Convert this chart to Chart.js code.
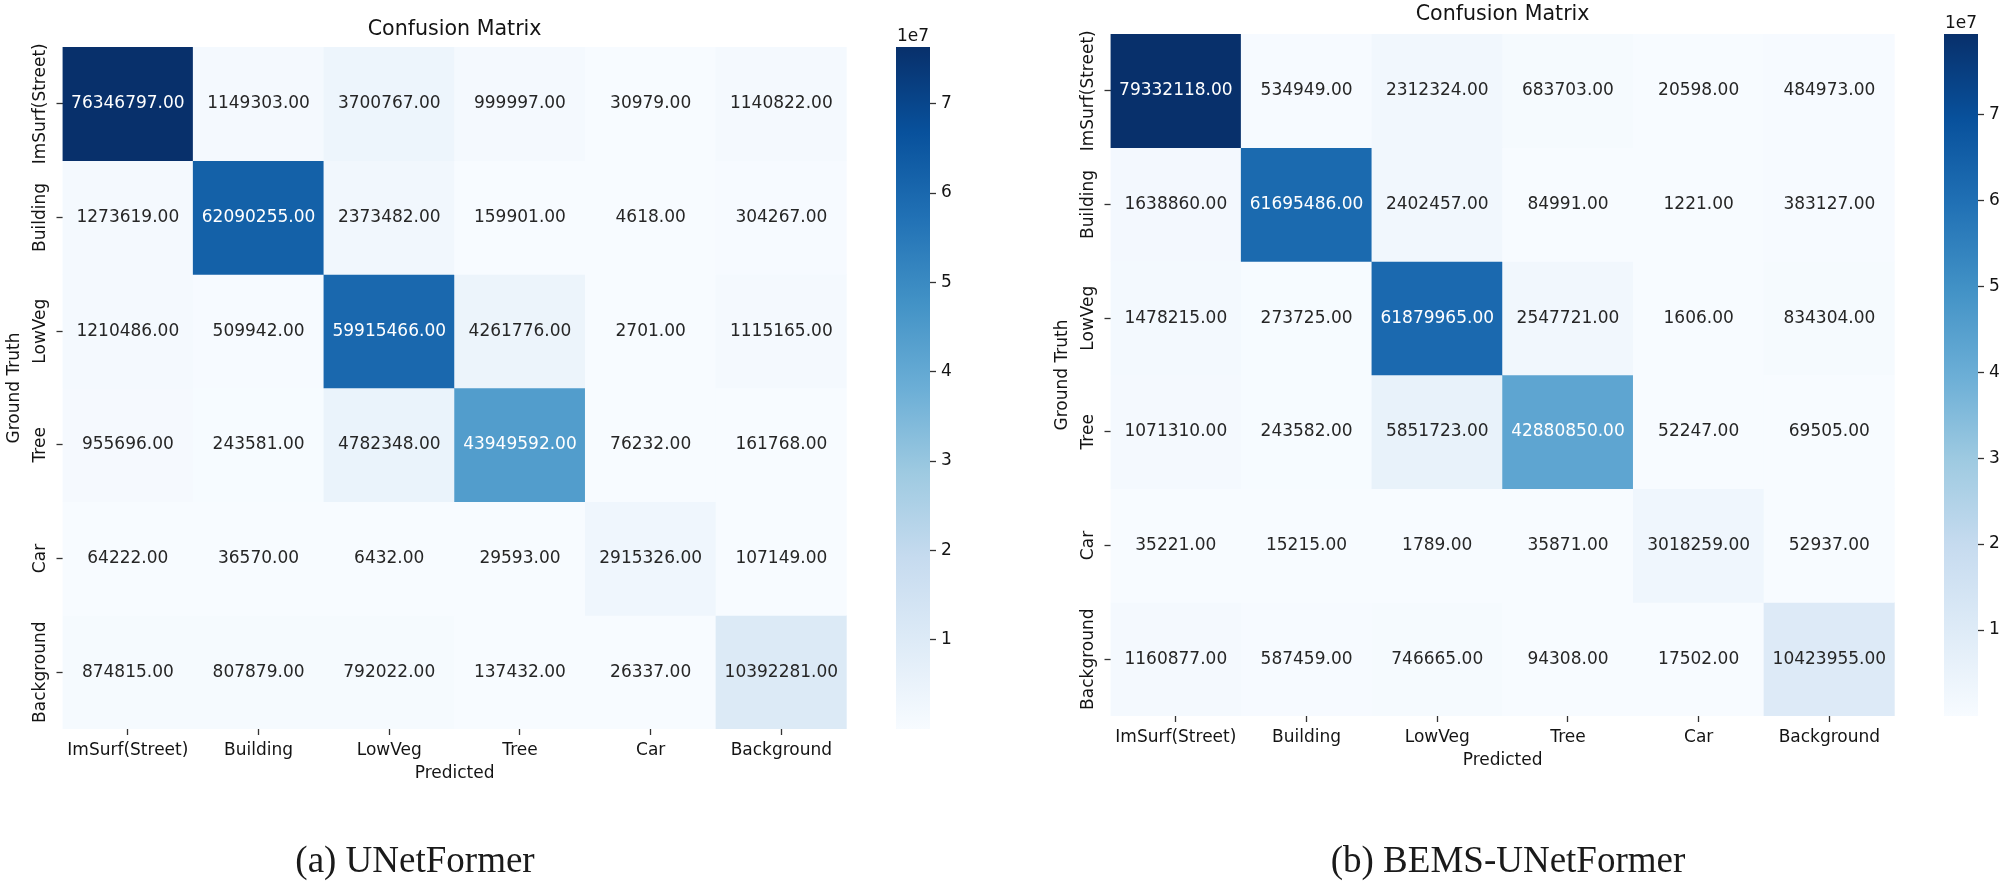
<!DOCTYPE html>
<html>
<head>
<meta charset="utf-8">
<script src="https://cdn.jsdelivr.net/npm/chart.js@4.4.1/dist/chart.umd.min.js"></script>
<style>
html,body{margin:0;padding:0;background:#ffffff;}
body{width:2007px;height:892px;position:relative;overflow:hidden;}
canvas{position:absolute;}
.cap{position:absolute;font-family:"Liberation Serif","Times New Roman",serif;font-size:37px;color:#1a1a1a;white-space:nowrap;transform:translateX(-50%);line-height:1.15;}
</style>
</head>
<body>
<canvas id="hmA" width="870" height="892" style="left:0px;top:0px;"></canvas>
<canvas id="cbA" width="74" height="749" style="left:896px;top:0px;"></canvas>
<canvas id="hmB" width="870" height="892" style="left:1048px;top:-13px;"></canvas>
<canvas id="cbB" width="74" height="749" style="left:1944px;top:-13px;"></canvas>
<div class="cap" id="capA" style="left:415px;top:839px;"></div>
<div class="cap" id="capB" style="left:1508px;top:839px;"></div>
<script>
// ---------------- data ----------------
const classes = ['ImSurf(Street)', 'Building', 'LowVeg', 'Tree', 'Car', 'Background'];

const unetformerRows = [
  [76346797, 1149303, 3700767, 999997, 30979, 1140822],
  [1273619, 62090255, 2373482, 159901, 4618, 304267],
  [1210486, 509942, 59915466, 4261776, 2701, 1115165],
  [955696, 243581, 4782348, 43949592, 76232, 161768],
  [64222, 36570, 6432, 29593, 2915326, 107149],
  [874815, 807879, 792022, 137432, 26337, 10392281]
];

const bemsUnetformerRows = [
  [79332118, 534949, 2312324, 683703, 20598, 484973],
  [1638860, 61695486, 2402457, 84991, 1221, 383127],
  [1478215, 273725, 61879965, 2547721, 1606, 834304],
  [1071310, 243582, 5851723, 42880850, 52247, 69505],
  [35221, 15215, 1789, 35871, 3018259, 52937],
  [1160877, 587459, 746665, 94308, 17502, 10423955]
];

const colorbarTickValues = [1, 2, 3, 4, 5, 6, 7];   // in units of 1e7
const colorbarScale = 1e7;
const colorbarExponentLabel = '1e7';
const chartTitle = 'Confusion Matrix';
const xAxisTitle = 'Predicted';
const yAxisTitle = 'Ground Truth';
const captions = ['(a) UNetFormer', '(b) BEMS-UNetFormer'];

// ---------------- colormap (matplotlib "Blues") ----------------
const BLUES = [[247,251,255],[222,235,247],[198,219,239],[158,202,225],[107,174,214],[66,146,198],[33,113,181],[8,81,156],[8,48,107]];
function blues(t) {
  t = Math.min(1, Math.max(0, t));
  const s = t * 8;
  const i = Math.min(7, Math.floor(s));
  const f = s - i;
  const a = BLUES[i], b = BLUES[i + 1];
  return [0, 1, 2].map(k => a[k] + (b[k] - a[k]) * f);
}
function rgbStr(c) { return 'rgb(' + c.map(v => Math.round(v)).join(',') + ')'; }
function luminance(c) {
  const lin = c.map(v => { v = v / 255; return v <= 0.03928 ? v / 12.92 : Math.pow((v + 0.055) / 1.055, 2.4); });
  return 0.2126 * lin[0] + 0.7152 * lin[1] + 0.0722 * lin[2];
}

const FONT = '"DejaVu Sans", Verdana, sans-serif';
const TEXT = '#141414';
const TICKC = '#333333';

// ---------------- plugin: cell annotations + rotated row labels ----------------
const cellTextPlugin = {
  id: 'cellText',
  afterDatasetsDraw(chart) {
    const ctx = chart.ctx;
    ctx.save();
    ctx.font = '17px ' + FONT;
    ctx.textAlign = 'center';
    ctx.textBaseline = 'middle';
    chart.data.datasets.forEach((ds, di) => {
      const meta = chart.getDatasetMeta(di);
      meta.data.forEach((el, i) => {
        const p = el.getCenterPoint();
        ctx.fillStyle = ds.textColors[i];
        ctx.fillText(ds.values[i].toFixed(2), p.x, p.y);
      });
    });
    const ys = chart.scales.y;
    ctx.fillStyle = TEXT;
    ys.ticks.forEach((t, i) => {
      ctx.save();
      ctx.translate(chart.chartArea.left - 21.5, ys.getPixelForValue(t.value));
      ctx.rotate(-Math.PI / 2);
      ctx.fillText(classes[i], 0, 0);
      ctx.restore();
    });
    ctx.restore();
  }
};

function makeHeatmap(canvasId, rows, titlePadTop) {
  const flat = rows.flat();
  const vmin = Math.min(...flat), vmax = Math.max(...flat);
  const colorOf = v => blues((v - vmin) / (vmax - vmin));
  const datasets = rows.map((row, r) => ({
    label: classes[r],
    data: row.map(() => [r, r + 1]),
    values: row,
    backgroundColor: row.map(v => rgbStr(colorOf(v))),
    textColors: row.map(v => luminance(colorOf(v)) > 0.408 ? '#262626' : '#ffffff'),
    borderWidth: 0,
    barPercentage: 1,
    categoryPercentage: 1,
    grouped: false
  }));
  return new Chart(document.getElementById(canvasId), {
    type: 'bar',
    data: { labels: classes, datasets },
    options: {
      responsive: false,
      animation: false,
      layout: { padding: { left: 0, right: 23.3, top: 0, bottom: 103 } },
      plugins: { legend: { display: false }, tooltip: { enabled: false }, title: { display: false } },
      scales: {
        x: {
          type: 'category', position: 'bottom', offset: true,
          grid: { display: true, drawOnChartArea: false, drawTicks: true, tickLength: 6, tickWidth: 1.3, tickColor: TICKC, offset: false },
          border: { display: false },
          ticks: { font: { family: FONT, size: 17 }, color: TEXT, padding: 5, maxRotation: 0, minRotation: 0, autoSkip: false },
          title: { display: true, text: xAxisTitle, font: { family: FONT, size: 17 }, color: TEXT, padding: { top: 0, bottom: 5.5 } },
          afterFit: s => { s.height = 60; }
        },
        top: {
          type: 'category', position: 'top', offset: true, labels: classes,
          grid: { display: false }, border: { display: false }, ticks: { display: false },
          title: { display: true, text: chartTitle, font: { family: FONT, size: 20.6 }, color: TEXT, padding: { top: titlePadTop, bottom: 0 } },
          afterFit: s => { s.height = 47; }
        },
        y: {
          type: 'linear', position: 'left', min: 0, max: rows.length, reverse: true,
          afterBuildTicks: s => { s.ticks = classes.map((c, i) => ({ value: i + 0.5 })); },
          grid: { display: true, drawOnChartArea: false, drawTicks: true, tickLength: 6, tickWidth: 1.3, tickColor: TICKC },
          border: { display: false },
          ticks: { display: false },
          title: { display: true, text: yAxisTitle, font: { family: FONT, size: 17 }, color: TEXT, padding: { top: 4.5, bottom: 0 } },
          afterFit: s => { s.width = 62.5; }
        }
      }
    },
    plugins: [cellTextPlugin]
  });
}

function makeColorbar(canvasId, rows) {
  const flat = rows.flat();
  const vmin = Math.min(...flat), vmax = Math.max(...flat);
  return new Chart(document.getElementById(canvasId), {
    type: 'bar',
    data: {
      labels: [''],
      datasets: [{
        data: [[vmin, vmax]],
        borderWidth: 0,
        barPercentage: 1,
        categoryPercentage: 1,
        backgroundColor: (c) => {
          const chart = c.chart;
          if (!chart.chartArea) return 'rgba(0,0,0,0)';
          const ys = chart.scales.y;
          const g = chart.ctx.createLinearGradient(0, ys.getPixelForValue(vmin), 0, ys.getPixelForValue(vmax));
          BLUES.forEach((col, k) => g.addColorStop(k / (BLUES.length - 1), rgbStr(col)));
          return g;
        }
      }]
    },
    options: {
      responsive: false,
      animation: false,
      layout: { padding: { left: 0, right: 0, top: 0, bottom: 20 } },
      plugins: { legend: { display: false }, tooltip: { enabled: false } },
      scales: {
        x: { type: 'category', display: false, offset: true },
        top: {
          type: 'category', position: 'top', labels: [''],
          grid: { display: false }, border: { display: false }, ticks: { display: false },
          title: { display: true, text: colorbarExponentLabel, font: { family: FONT, size: 17 }, color: TEXT, padding: { top: 26.8, bottom: 0 } },
          afterFit: s => { s.height = 47; }
        },
        y: {
          type: 'linear', position: 'right', min: vmin, max: vmax,
          afterBuildTicks: s => { s.ticks = colorbarTickValues.map(v => ({ value: v * colorbarScale })); },
          grid: { display: true, drawOnChartArea: false, drawTicks: true, tickLength: 6, tickWidth: 1.3, tickColor: TICKC },
          border: { display: false },
          ticks: { font: { family: FONT, size: 17 }, color: TEXT, padding: 5, callback: v => String(Math.round(v / colorbarScale)) },
          afterFit: s => { s.width = 40; }
        }
      }
    }
  });
}

makeHeatmap('hmA', unetformerRows, 17.6);
makeColorbar('cbA', unetformerRows);
makeHeatmap('hmB', bemsUnetformerRows, 15.6);
makeColorbar('cbB', bemsUnetformerRows);
document.getElementById('capA').textContent = captions[0];
document.getElementById('capB').textContent = captions[1];
</script>
</body>
</html>
